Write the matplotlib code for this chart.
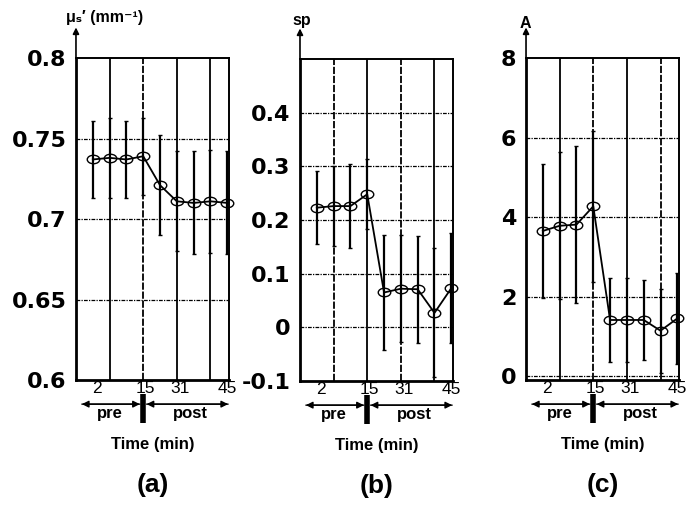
import matplotlib.pyplot as plt
from matplotlib.path import Path
from matplotlib.transforms import Affine2D, blended_transform_factory

# sample index (9 measurements, 2..45 min)
idx = [1, 2, 3, 4, 5, 6, 7, 8, 9]
time_ticks = [1.25, 4.15, 6.2, 9.0]
time_labels = ["2", "15", "31", "45"]

# (a) reduced scattering coefficient
mus = [0.737, 0.738, 0.737, 0.739, 0.721, 0.711, 0.710, 0.711, 0.710]
mus_err = [0.024, 0.025, 0.024, 0.024, 0.031, 0.031, 0.032, 0.032, 0.032]
mus_ticks = [0.6, 0.65, 0.7, 0.75, 0.8]
mus_labels = ["0.6", "0.65", "0.7", "0.75", "0.8"]

# (b) scattering power
sp = [0.223, 0.226, 0.226, 0.248, 0.065, 0.072, 0.071, 0.027, 0.073]
sp_err = [0.068, 0.074, 0.078, 0.065, 0.107, 0.100, 0.100, 0.120, 0.103]
sp_ticks = [-0.1, 0.0, 0.1, 0.2, 0.3, 0.4]
sp_labels = ["-0.1", "0", "0.1", "0.2", "0.3", "0.4"]

# (c) scattering amplitude
amp = [3.65, 3.78, 3.81, 4.27, 1.41, 1.41, 1.41, 1.14, 1.45]
amp_err = [1.68, 1.85, 1.97, 1.90, 1.05, 1.05, 1.00, 1.06, 1.15]
amp_ticks = [0, 2, 4, 6, 8]
amp_labels = ["0", "2", "4", "6", "8"]

SANS = ["Liberation Sans", "DejaVu Sans"]
DENSE = (0, (4, 1))
# flattened open circle, as in the original figure
ELLIPSE = Path.unit_circle().transformed(Affine2D().scale(1.0, 0.68))


def draw_panel(ax, y, yerr, yticks, ylabels, ylim, ylabel, label_xy, tag, vstyles):
    ax.set_xlim(0, 9.1)
    ax.set_ylim(*ylim)
    for sp_name, lw in zip(["left", "bottom", "top", "right"], [2.0, 2.0, 1.4, 1.4]):
        ax.spines[sp_name].set_linewidth(lw)
        ax.spines[sp_name].set_color("black")

    for t in yticks:
        if ylim[0] < t < ylim[1] - 1e-9:
            ax.axhline(t, color="black", lw=0.9, ls=(0, (3, 1, 1, 1)), zorder=1)
    for xv, ls in zip([2, 4, 6, 8], vstyles):
        ax.axvline(xv, color="black", lw=1.3, ls=ls, zorder=1)

    line, caps, bars = ax.errorbar(
        idx, y, yerr=yerr, color="black", lw=1.3, elinewidth=1.6,
        capsize=1.5, capthick=1.0, marker=ELLIPSE, ms=9, mfc="none",
        mec="black", mew=1.0, zorder=3)
    line.set_clip_on(False)
    for c in caps:
        c.set_clip_on(False)
    for b in bars:
        b.set_clip_on(False)

    ax.set_yticks(yticks, labels=ylabels)
    ax.set_xticks(time_ticks, labels=time_labels)
    ax.tick_params(axis="y", length=0, pad=7, labelsize=16)
    ax.tick_params(axis="x", length=0, pad=1, labelsize=12.5)
    for lab in ax.get_yticklabels():
        lab.set_fontweight("bold")
        lab.set_family("DejaVu Sans")
    for lab in ax.get_xticklabels():
        lab.set_family(SANS)

    # y-axis arrow and label
    ax.annotate("", xy=(0, 1.095), xytext=(0, 1.0), xycoords="axes fraction",
                arrowprops=dict(arrowstyle="-|>", color="black", lw=1.2,
                                mutation_scale=9, shrinkA=0, shrinkB=0),
                annotation_clip=False)
    ax.text(label_xy[0], label_xy[1], ylabel, transform=ax.transAxes,
            ha="center", va="center", fontsize=11.5, fontweight="bold",
            family=SANS)

    # pre / post arrows
    tr = blended_transform_factory(ax.transData, ax.transAxes)
    arrow = dict(arrowstyle="-|>", color="black", lw=1.0, mutation_scale=10,
                 shrinkA=0, shrinkB=0)
    for a, b in [(0.35, 3.8), (3.8, 0.35), (4.2, 9.05), (9.05, 4.2)]:
        ax.annotate("", xy=(a, -0.075), xytext=(b, -0.075), xycoords=tr,
                    textcoords=tr, arrowprops=arrow, annotation_clip=False)
    ax.plot([4, 4], [-0.043, -0.134], transform=tr, color="black", lw=4,
            clip_on=False, solid_capstyle="butt")
    ax.text(2.0, -0.105, "pre", transform=tr, ha="center", va="center",
            fontsize=12, fontweight="bold", family=SANS)
    ax.text(6.8, -0.105, "post", transform=tr, ha="center", va="center",
            fontsize=12, fontweight="bold", family=SANS)
    ax.text(0.5, -0.2, "Time (min)", transform=ax.transAxes, ha="center",
            va="center", fontsize=12, fontweight="bold", family=SANS)
    ax.text(0.5, -0.325, tag, transform=ax.transAxes, ha="center",
            va="center", fontsize=19, fontweight="bold", family=SANS)


fig = plt.figure(figsize=(6.97, 5.07), dpi=100)
ax_a = fig.add_axes((0.109, 0.2505, 0.2195, 0.635))
ax_b = fig.add_axes((0.4304, 0.2485, 0.2195, 0.635))
ax_c = fig.add_axes((0.7547, 0.2505, 0.2195, 0.635))

draw_panel(ax_a, mus, mus_err, mus_ticks, mus_labels, (0.6, 0.8),
           "μₛ′ (mm⁻¹)", (0.19, 1.127), "(a)",
           ["-", DENSE, "-", "-"])
draw_panel(ax_b, sp, sp_err, sp_ticks, sp_labels, (-0.1, 0.5),
           "sp", (0.013, 1.121), "(b)",
           [DENSE, "-", DENSE, "-"])
draw_panel(ax_c, amp, amp_err, amp_ticks, amp_labels, (-0.1, 8),
           "A", (-0.005, 1.106), "(c)",
           ["-", DENSE, "-", DENSE])

fig.savefig("out.png", dpi=100)
plt.close(fig)
